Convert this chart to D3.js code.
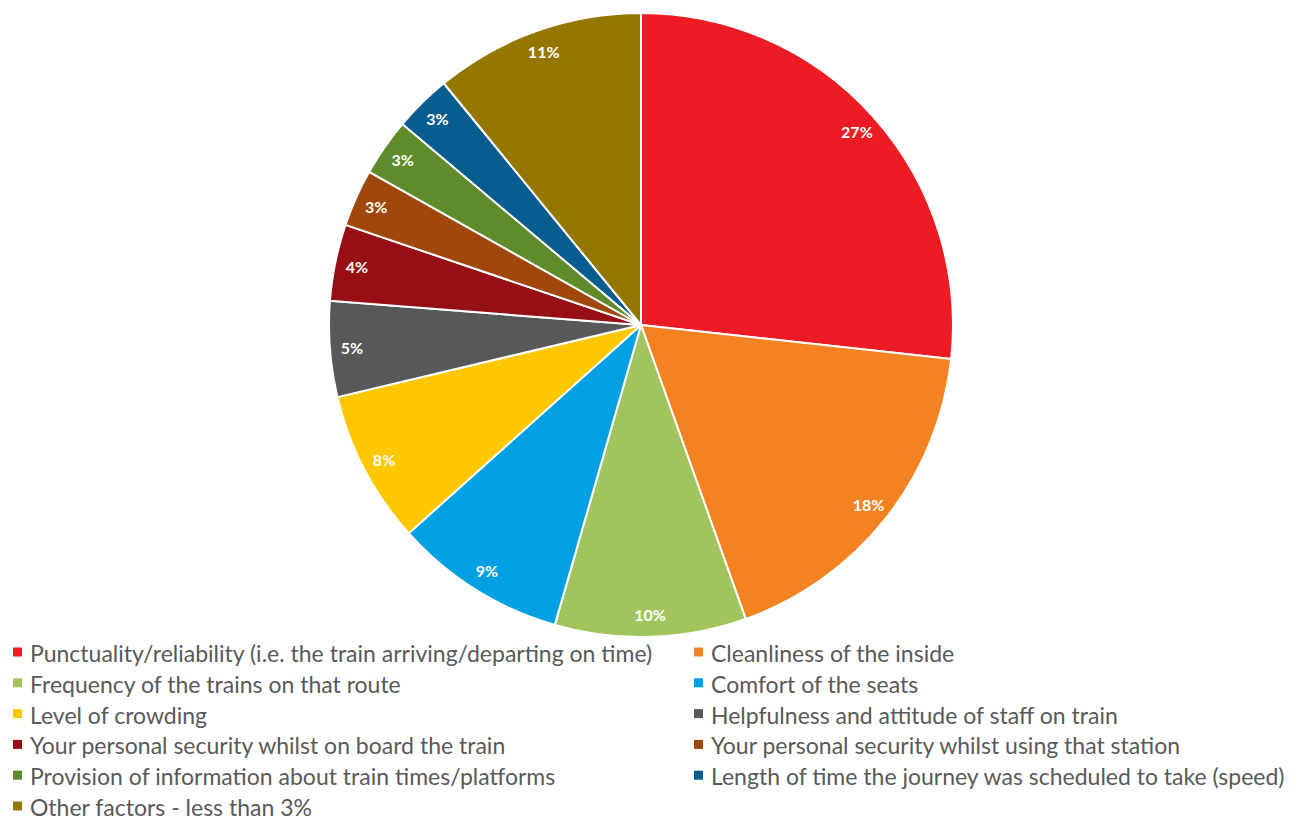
<!DOCTYPE html>
<html>
<head>
<meta charset="utf-8">
<script src="https://cdn.jsdelivr.net/npm/d3@7"></script>
<style>
  html, body { margin: 0; padding: 0; background: #fff; }
  svg { display: block; }
</style>
</head>
<body>
<svg id="chart" width="1308" height="821"></svg>
<script>
// Reasons for satisfaction with the rail journey (share of responses, %)
const categories = [
  "Punctuality/reliability (i.e. the train arriving/departing on time)",
  "Cleanliness of the inside",
  "Frequency of the trains on that route",
  "Comfort of the seats",
  "Level of crowding",
  "Helpfulness and attitude of staff on train",
  "Your personal security whilst on board the train",
  "Your personal security whilst using that station",
  "Provision of information about train times/platforms",
  "Length of time the journey was scheduled to take (speed)",
  "Other factors - less than 3%"
];
const values = [27, 18, 10, 9, 8, 5, 4, 3, 3, 3, 11];
const colors = [
  "#ED1C24", "#F58220", "#A2C45C", "#01A0E2", "#FFC700",
  "#56585A", "#970E14", "#A0480B", "#5F8B2B", "#065D8E", "#937700"
];

const svg = d3.select("#chart");
const cx = 641, cy = 325, radius = 312;

const data = categories.map((name, i) => ({ name, value: values[i], color: colors[i] }));

const pie = d3.pie().value(d => d.value).sort(null);
const arc = d3.arc().innerRadius(0).outerRadius(radius);
const labelArc = d3.arc().innerRadius(290).outerRadius(290);

const g = svg.append("g").attr("transform", `translate(${cx},${cy})`);
const arcs = pie(data);

g.selectAll("path.slice")
  .data(arcs)
  .join("path")
  .attr("class", "slice")
  .attr("d", arc)
  .attr("fill", d => d.data.color)
  .attr("stroke", "#fff")
  .attr("stroke-width", 2)
  .attr("stroke-linejoin", "round");

g.selectAll("text.pct")
  .data(arcs)
  .join("text")
  .attr("class", "pct")
  .attr("transform", d => `translate(${labelArc.centroid(d)})`)
  .attr("text-anchor", "middle")
  .attr("dominant-baseline", "central")
  .attr("fill", "#fff")
  .attr("font-family", "Lato, 'Open Sans', sans-serif")
  .attr("font-weight", 700)
  .attr("font-size", 16)
  .text(d => d.data.value + "%");

// Legend: two columns, filled row by row
const legend = svg.append("g").attr("class", "legend");
const colX = [13, 694];
const rowY0 = 652, rowStep = 30.8;

const items = legend.selectAll("g.item")
  .data(data)
  .join("g")
  .attr("class", "item")
  .attr("transform", (d, i) => `translate(${colX[i % 2]},${rowY0 + Math.floor(i / 2) * rowStep})`);

items.append("rect")
  .attr("x", 0)
  .attr("y", -4.5)
  .attr("width", 9)
  .attr("height", 9)
  .attr("fill", d => d.color);

items.append("text")
  .attr("x", 17)
  .attr("y", 1)
  .attr("dominant-baseline", "central")
  .attr("fill", "#595959")
  .attr("font-family", "Lato, 'Open Sans', sans-serif")
  .attr("font-size", 23)
  .text(d => d.name);
</script>
</body>
</html>
